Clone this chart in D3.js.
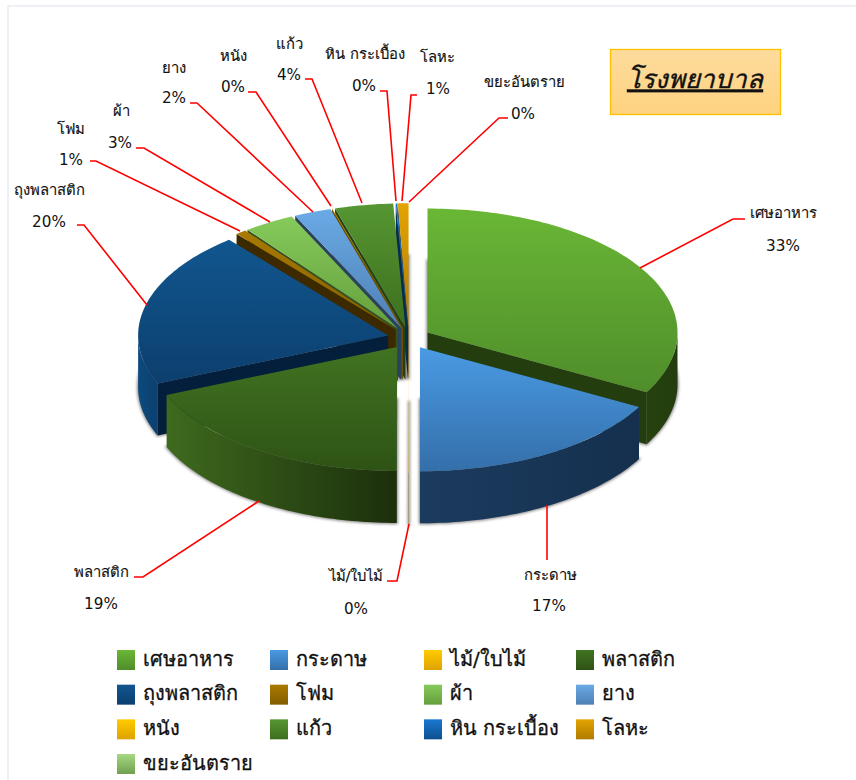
<!DOCTYPE html>
<html><head><meta charset="utf-8">
<script src="https://cdn.jsdelivr.net/npm/d3@7/dist/d3.min.js"></script>
<style>html,body{margin:0;padding:0;background:#fff}svg{display:block}
text{font-family:"DejaVu Sans","Noto Sans","Noto Sans CJK SC",sans-serif;fill:#111}</style>
</head><body><svg id="c" width="856" height="780"></svg>
<script>
const categories = ["เศษอาหาร","กระดาษ","ไม้/ใบไม้","พลาสติก","ถุงพลาสติก","โฟม","ผ้า","ยาง","หนัง","แก้ว","หิน กระเบื้อง","โลหะ","ขยะอันตราย"];
const shares = [33,17,0.02,18.65,20.35,0.7,3.3,2.4,0.04,3.76,0.1,0.68,0];
const topLight = ["#6ab736","#4a9ae4","#ffcb00","#417321","#11568f","#aa7a00","#86ca5b","#6aaae6","#ffcb00","#569632","#1a78d0","#e3a300","#a6d981"];
const topDark  = ["#4f8d2a","#346fa9","#dfa200","#2e5315","#0c3f6e","#835c00","#659f3c","#4e80b4","#dfa200","#3c6f1e","#0d4f90","#b07c00","#6f9f50"];
const wallLight= ["#26420f","#1b3b5f","#7a5c00","#3e6a1d","#0d4a7e","#4d3400","#3e6024","#34516f","#7a5c00","#2d4d16","#0a335e","#7a5400","#4d6a38"];
const wallEnd  = ["#233d0e","#15304e","#6a4f00","#1c2f0c","#0b3f6e","#3d2900","#34501e","#2a425c","#6a4f00","#243f11","#082a4e","#664600","#405a2e"];
const wallDark = ["#233d0e","#142e4c","#6a4f00","#1c2f0c","#041f3c","#3d2900","#34501e","#2a425c","#6a4f00","#243f11","#082a4e","#664600","#405a2e"];
const titleText = "โรงพยาบาล";

// hand-placed label layout, as in the reference
const labelLayout = [
 {nx:783,ny:214,px:783,py:246,leader:[[640,268],[733,219],[745,219]]},
 {nx:550,ny:576,px:549,py:606,leader:[[547,505],[547,560]]},
 {nx:356,ny:577,px:356,py:609,leader:[[409,524],[397,581],[387,581]]},
 {nx:101,ny:573,px:101,py:604,leader:[[259,501],[143,577],[134,577]]},
 {nx:49,ny:191,px:49,py:222,leader:[[147,305],[84,225],[77,225]]},
 {nx:71,ny:130,px:71,py:160,leader:[[240,231],[96,161],[90,161]]},
 {nx:121,ny:112,px:120,py:143,leader:[[270,222],[144,148],[136,148]]},
 {nx:174,ny:69,px:174,py:98,leader:[[313,212],[197,103],[190,103]]},
 {nx:233,ny:57,px:233,py:87,leader:[[331,206],[256,92],[248,92]]},
 {nx:289,ny:45,px:289,py:75,leader:[[362,203],[312,79],[305,79]]},
 {nx:365,ny:55,px:364,py:86,leader:[[396,201],[387,91],[380,91]]},
 {nx:437,ny:58,px:438,py:89,leader:[[402,201],[411,95],[417,95]]},
 {nx:524,ny:83,px:523,py:114,leader:[[409,202],[499,118],[508,118]]}
];

const cx=409, cy=338, rx=250, ry=124, depth=52, explode=21.5;
const svg=d3.select("#c");
const defs=svg.append("defs");
defs.append("filter").attr("id","blur").attr("x","-20%").attr("y","-20%").attr("width","140%").attr("height","140%")
  .append("feGaussianBlur").attr("stdDeviation",1.7);
function vGrad(id,a,b){const g=defs.append("linearGradient").attr("id",id).attr("x1",0).attr("y1",0).attr("x2",0).attr("y2",1);
  g.append("stop").attr("offset",0).attr("stop-color",a);g.append("stop").attr("offset",1).attr("stop-color",b);}
function hGrad(id,a,b){const g=defs.append("linearGradient").attr("id",id).attr("x1",0).attr("y1",0).attr("x2",1).attr("y2",0);
  g.append("stop").attr("offset",0).attr("stop-color",a);g.append("stop").attr("offset",1).attr("stop-color",b);}
categories.forEach((c,i)=>{vGrad("t"+i,topLight[i],topDark[i]);hGrad("w"+i,wallLight[i],wallEnd[i]);});

// frame
svg.append("path").attr("d","M8,780V6H856").attr("fill","none").attr("stroke","#e8ecf2").attr("stroke-width",1.6);

const pie=d3.pie().sort(null).value(d=>d).startAngle(0).endAngle(2*Math.PI);
const arcs=pie(shares);
const line=d3.line();
const fx=d3.scaleLinear().domain([-1,1]).range([-rx,rx]);
const fy=d3.scaleLinear().domain([-1,1]).range([-ry,ry]);
function origin(a){const m=(a.startAngle+a.endAngle)/2;
  return [cx+Math.sin(m)*explode, cy-Math.cos(m)*explode*0.5];}
function rim(o,t,dz){return [o[0]+fx(Math.sin(t)), o[1]-fy(Math.cos(t))+dz];}
function sample(a,b){const n=Math.max(2,Math.ceil(Math.abs(b-a)/0.02));return d3.range(n+1).map(k=>a+(b-a)*k/n);}

const shadowG=svg.append("g").attr("filter","url(#blur)");
const bodyG=svg.append("g");

// bottom-face shadow of every slice
arcs.forEach(a=>{ if(a.value<=0) return;
  const o=origin(a), pts=[[o[0],o[1]+depth],...sample(a.startAngle,a.endAngle).map(t=>rim(o,t,depth))];
  shadowG.append("path").attr("d",line(pts)+"Z").attr("fill","#808080").attr("stroke","#808080").attr("stroke-width",2);
});

// back slices first
const order=arcs.map((a,i)=>({a,i})).filter(d=>d.a.value>0)
  .sort((p,q)=>-Math.cos((p.a.startAngle+p.a.endAngle)/2)+Math.cos((q.a.startAngle+q.a.endAngle)/2));
order.forEach(({a,i})=>{
  const o=origin(a), s=a.startAngle, e=a.endAngle;
  const g=bodyG.append("g");
  // radial walls
  if(Math.sin(s)<-1e-6){const r=rim(o,s,0);
    g.append("path").attr("d",line([o,r,[r[0],r[1]+depth],[o[0],o[1]+depth]])+"Z").attr("fill",wallDark[i]);}
  if(Math.sin(e)>1e-6){const r=rim(o,e,0);
    g.append("path").attr("d",line([o,r,[r[0],r[1]+depth],[o[0],o[1]+depth]])+"Z").attr("fill",wallDark[i]);}
  // outer wall, front half only
  const w0=Math.max(s,Math.PI/2), w1=Math.min(e,1.5*Math.PI);
  if(w1>w0){const ts=sample(w0,w1);
    const pts=[...ts.map(t=>rim(o,t,0)),...ts.slice().reverse().map(t=>rim(o,t,depth))];
    g.append("path").attr("d",line(pts)+"Z").attr("fill",`url(#w${i})`);}
  // top face
  const pts=[o,...sample(s,e).map(t=>rim(o,t,0))];
  g.append("path").attr("d",line(pts)+"Z").attr("fill",`url(#t${i})`);
});

// leaders + labels
const labelG=svg.append("g");
const pct=d3.format(".0f");
categories.forEach((c,i)=>{const L=labelLayout[i];
  labelG.append("path").attr("d",line(L.leader)).attr("fill","none").attr("stroke","#ff0000").attr("stroke-width",1.6);
  labelG.append("text").attr("x",L.nx).attr("y",L.ny).attr("text-anchor","middle").attr("dominant-baseline","middle")
    .attr("font-size",14.8).attr("stroke","#111").attr("stroke-width",0.15).text(c);
  labelG.append("text").attr("x",L.px).attr("y",L.py).attr("text-anchor","middle").attr("dominant-baseline","middle")
    .attr("font-size",15.2).text(pct(shares[i])+"%");
});

// legend
const legendY=d3.scalePoint().domain([0,1,2,3]).range([660,764]);
const colX=[117,270,424,576];
categories.forEach((c,i)=>{const col=i%4,row=Math.floor(i/4);
  const x=colX[col], y=legendY(row);
  svg.append("rect").attr("x",x).attr("y",y-10).attr("width",18).attr("height",20).attr("fill",`url(#t${i})`);
  svg.append("text").attr("x",x+26).attr("y",y).attr("dominant-baseline","middle").attr("font-size",19.9)
    .attr("stroke","#111").attr("stroke-width",0.3).text(c);
});

// title box
vGrad("titleFill","#fedc9e","#fed27f");
svg.append("rect").attr("x",610.5).attr("y",49.5).attr("width",170).attr("height",65).attr("fill","url(#titleFill)").attr("stroke","#ffc000").attr("stroke-width",1.3);
svg.append("text").attr("x",695).attr("y",80).attr("text-anchor","middle").attr("dominant-baseline","middle")
  .attr("font-size",26).attr("font-style","italic").attr("stroke","#111").attr("stroke-width",0.4).attr("text-decoration","underline").text(titleText);
</script></body></html>
